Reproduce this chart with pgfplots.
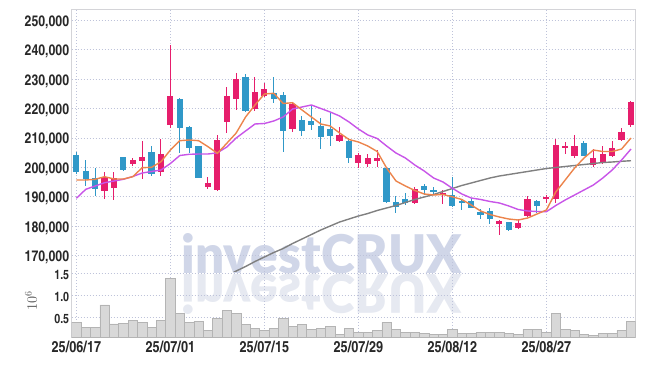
\documentclass[border=0pt]{standalone}
\usepackage{fontspec}
\usepackage{graphicx}
\usepackage{pgfplots}
\usepackage{pgfplotstable}
\pgfplotsset{compat=1.18}
\IfFontExistsTF{texgyreheroscn-bold.otf}{%
  \newfontfamily\labfont{texgyreheroscn-bold.otf}\def\labA{1}%
}{%
  \newfontfamily\labfont[FakeStretch=0.85]{Liberation Sans}\def\labA{0}%
}
\IfFontExistsTF{Lato Black}{%
  \newfontfamily\wmfont{Lato Black}%
}{%
  \IfFontExistsTF{texgyreheros-bold.otf}{%
    \newfontfamily\wmfont{texgyreheros-bold.otf}%
  }{%
    \newfontfamily\wmfont{Liberation Sans}%
  }%
}
\definecolor{upc}{RGB}{230,30,108}
\definecolor{dnc}{RGB}{48,152,200}
\definecolor{maf}{RGB}{236,132,76}
\definecolor{mat}{RGB}{200,85,232}
\definecolor{mas}{RGB}{128,128,128}
\definecolor{gridc}{RGB}{190,195,218}
\definecolor{axisc}{RGB}{212,212,216}
\definecolor{labc}{RGB}{40,40,40}
\definecolor{volf}{RGB}{216,216,216}
\definecolor{vold}{RGB}{180,180,180}
\definecolor{wm}{RGB}{208,214,232}
\definecolor{wmr}{RGB}{230,233,241}

\pgfplotstableread{
i O H L C
3 192040 198300 189110 196800
4 193060 198500 188880 196260
6 201020 203060 200610 202480
7 202240 209050 195920 203600
9 198500 209620 197040 204520
10 214390 241600 213500 224250
14 193400 196800 192520 194760
15 192280 211000 191900 209290
16 215510 227210 211770 224250
17 223230 231970 219490 230030
19 219830 230820 219150 225510
20 224350 228570 223910 226630
23 212920 221870 211900 221530
28 209050 213810 208770 211000
30 201360 204760 199860 204180
31 201120 204420 200200 203060
32 202240 205880 200200 203060
36 187750 193400 187520 192520
39 190580 192280 187410 191360
45 180720 182070 176970 181740
47 179450 182520 179180 180950
48 183540 190240 183100 189220
50 189320 190580 187750 189790
51 189220 209520 187750 207590
52 206460 208700 204520 207250
53 203840 211000 203270 207250
55 200780 206220 200100 203270
56 201360 207250 201120 204420
57 203950 209050 203400 206460
58 209290 213260 208950 211900
59 214390 222550 213600 222310
}\upcandles

\pgfplotstableread{
i O H L C
0 204180 205300 197800 198500
1 198740 202480 193640 195920
2 196260 199660 190240 192520
5 203400 203600 198900 199080
8 205100 207350 197040 197620
11 223230 223500 204970 213470
12 213810 214150 204970 206460
13 207250 207400 196200 196460
18 230610 231740 218640 219150
21 225170 230820 221870 223230
22 224590 225510 205100 212450
24 216090 217550 210750 212450
25 215750 221190 212690 214390
26 214050 216670 206120 210410
27 213030 218570 207250 210750
29 209050 209800 201360 203060
33 199660 199900 187860 188300
34 188090 190240 184350 186600
35 189110 191160 187180 187750
37 193640 194150 190580 192280
38 192280 193300 190920 191840
40 190580 196800 186500 186840
41 188640 188880 185480 187750
42 188540 189460 185990 186260
43 184800 185710 182310 183870
44 185140 186060 180720 182310
46 181290 181390 178330 178670
49 188540 188880 184550 186940
54 208160 209050 203840 203950
}\dncandles

\pgfplotstableread{
i v
0 195680
1 195680
2 195920
3 196800
4 196020
5 196020
6 196800
7 199860
8 200000
9 201900
10 205880
11 209050
12 209290
13 209050
14 207010
15 204760
16 208160
17 211670
18 217110
19 221190
20 224930
21 225170
22 221700
23 221970
24 219490
25 217110
26 214730
27 214050
28 211670
29 209450
30 208610
31 207240
32 205370
33 199760
34 195340
35 193640
36 192110
37 190920
38 190580
39 190750
40 189960
41 189050
42 187180
43 185140
44 183940
45 183090
46 182410
47 182070
48 182750
49 184110
50 185470
51 191600
52 195680
53 199760
54 203160
55 205880
56 205370
57 205370
58 206220
59 209970
}\mafive

\pgfplotstableread{
i v
0 189455
1 192520
2 193640
3 194760
4 195340
5 195920
6 196870
7 198060
8 198570
9 199080
10 201290
11 204010
12 204420
13 204520
14 204520
15 204930
16 206900
17 209970
18 212350
19 214730
20 214900
21 215750
22 217110
23 219830
24 220510
25 221190
26 220000
27 218810
28 217450
29 215410
30 213030
31 210990
32 209800
33 207240
34 204860
35 203160
36 200780
37 198740
38 196360
39 195000
40 192860
41 190920
42 189560
43 189050
44 188370
45 187860
46 186840
47 185650
48 185140
49 184970
50 184900
51 187000
52 188880
53 190580
54 192280
55 193980
56 196360
57 199080
58 202480
59 206220
}\matwenty

\pgfplotstableread{
i v
16 163030
17 164730
18 166260
19 167960
20 169490
21 171020
22 172380
23 174080
24 175610
25 177140
26 178670
27 180030
28 181390
29 182410
30 183430
31 184280
32 185310
33 186160
34 187000
35 188030
36 189050
37 189900
38 190750
39 191770
40 192790
41 193810
42 194660
43 195510
44 196360
45 197040
46 197550
47 198060
48 198570
49 199080
50 199590
51 199930
52 200270
53 200610
54 200950
55 201290
56 201630
57 201800
58 202040
59 202240
}\malong

\pgfplotstableread{
i v
0 0.386
1 0.273
2 0.273
3 0.78
4 0.348
5 0.364
6 0.432
7 0.386
8 0.273
9 0.432
10 1.386
11 0.59
12 0.386
13 0.41
14 0.205
15 0.477
16 0.66
17 0.59
18 0.34
19 0.25
20 0.205
21 0.25
22 0.477
23 0.295
24 0.34
25 0.227
26 0.25
27 0.295
28 0.114
29 0.25
30 0.159
31 0.159
32 0.205
33 0.386
34 0.227
35 0.159
36 0.159
37 0.136
38 0.114
39 0.114
40 0.227
41 0.136
42 0.136
43 0.159
44 0.159
45 0.159
46 0.136
47 0.114
48 0.227
49 0.227
50 0.159
51 0.59
52 0.227
53 0.205
54 0.114
55 0.082
56 0.136
57 0.136
58 0.205
59 0.41
}\vol

\begin{document}
\begin{tikzpicture}
\useasboundingbox (0,0) rectangle (645pt,366pt);
% watermark and its reflection
\node[anchor=base, inner sep=0pt, text=wm] at (321.7pt,92.5pt) {\wmfont\resizebox{280pt}{40pt}{investCRUX}};
\node[anchor=base, inner sep=0pt, text=wmr] at (321.7pt,91.5pt) {\wmfont\scalebox{1}[-1]{\resizebox{280pt}{40pt}{investCRUX}}};

\begin{axis}[
  at={(71.7pt,94pt)}, anchor=south west,
  scale only axis, width=564pt, height=263pt,
  xmin=-0.5, xmax=59.5, ymin=164390, ymax=253840,
  axis x line*=top, axis y line*=box,
  axis line style={draw=axisc, -},
  xtick={0,10,20,30,40,50}, xticklabels={},
  ytick={170000,180000,190000,200000,210000,220000,230000,240000,250000},
  scaled y ticks=false,
  major tick length=0pt,
  grid=major,
  major grid style={draw=gridc, line width=0.7pt, dash pattern=on 0.8pt off 2.2pt},
  yticklabel style={font=\labfont\fontsize{15}{15}\selectfont, text=labc,
    /pgf/number format/fixed, /pgf/number format/1000 sep={,},
    /pgf/number format/assume math mode=true, yshift=-2pt, xshift=1pt},
]
% wicks
\addplot[draw=none, no markers, forget plot,
  error bars/.cd, y dir=both, y explicit, error mark=none,
  error bar style={draw=upc, line width=1pt}]
  table[x=i, y expr={(\thisrow{H}+\thisrow{L})/2}, y error expr={(\thisrow{H}-\thisrow{L})/2}] {\upcandles};
\addplot[draw=none, no markers, forget plot,
  error bars/.cd, y dir=both, y explicit, error mark=none,
  error bar style={draw=dnc, line width=1pt}]
  table[x=i, y expr={(\thisrow{H}+\thisrow{L})/2}, y error expr={(\thisrow{H}-\thisrow{L})/2}] {\dncandles};
% bodies
\addplot[draw=none, no markers, forget plot,
  error bars/.cd, y dir=both, y explicit, error mark=none,
  error bar style={draw=upc, line width=6.2pt}]
  table[x=i, y expr={(\thisrow{O}+\thisrow{C})/2}, y error expr={abs(\thisrow{C}-\thisrow{O})/2}] {\upcandles};
\addplot[draw=none, no markers, forget plot,
  error bars/.cd, y dir=both, y explicit, error mark=none,
  error bar style={draw=dnc, line width=6.2pt}]
  table[x=i, y expr={(\thisrow{O}+\thisrow{C})/2}, y error expr={abs(\thisrow{C}-\thisrow{O})/2}] {\dncandles};
% moving averages
\addplot[draw=mas, line width=1.4pt, mark=none] table[x=i, y=v] {\malong};
\addplot[draw=mat, line width=1.4pt, mark=none] table[x=i, y=v] {\matwenty};
\addplot[draw=maf, line width=1.4pt, mark=none] table[x=i, y=v] {\mafive};
\end{axis}

\begin{axis}[
  at={(71.7pt,28.3pt)}, anchor=south west,
  scale only axis, width=564pt, height=65.7pt,
  xmin=-0.5, xmax=59.5, ymin=0.036, ymax=1.53,
  axis x line*=bottom, axis y line*=box,
  axis line style={draw=axisc, -},
  xtick={0,10,20,30,40,50},
  xticklabels={25/06/17,25/07/01,25/07/15,25/07/29,25/08/12,25/08/27},
  ytick={0.5,1,1.5}, yticklabels={0.5,1.0,1.5},
  major tick length=0pt,
  grid=major,
  major grid style={draw=gridc, line width=0.7pt, dash pattern=on 0.8pt off 2.2pt},
  xticklabel style={font=\labfont\fontsize{15.5}{15.5}\selectfont, text=labc},
  yticklabel style={font=\labfont\fontsize{13}{13}\selectfont, text=labc, yshift=-2pt, xshift=1pt},
  ylabel={$10^{6}$},
  ylabel style={at={(axis description cs:-0.072,0.56)}, anchor=center, font=\fontsize{14}{14}\selectfont, text=labc!80},
]
\addplot[ybar, bar width=1, fill=volf, draw=vold, line width=0.5pt] table[x=i, y=v] {\vol};
\end{axis}
\end{tikzpicture}
\end{document}
